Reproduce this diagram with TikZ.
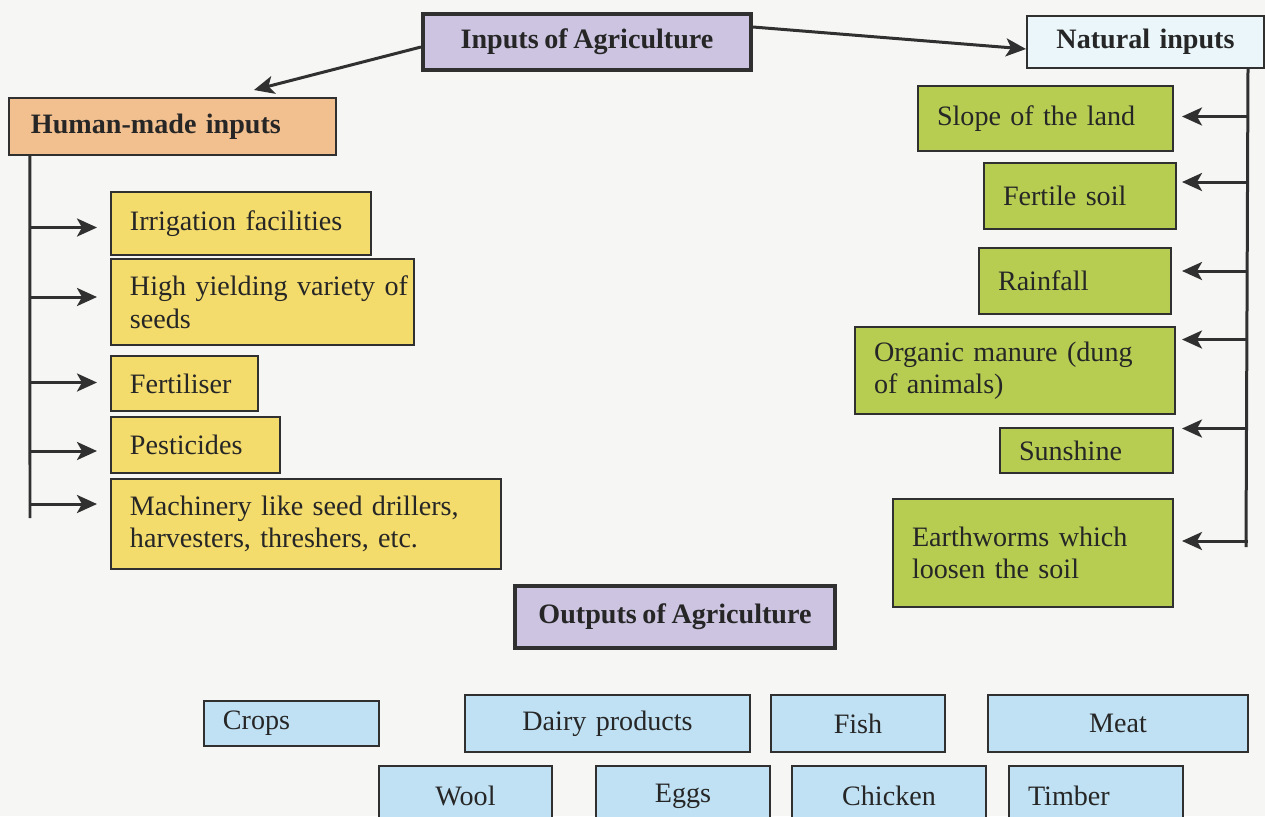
\documentclass[tikz,border=0pt]{standalone}
\usepackage{fontspec}
\setmainfont[WordSpace=0.8]{Liberation Serif}
\usetikzlibrary{positioning, arrows.meta, calc}

\definecolor{headpurple}{HTML}{CCC4E0}
\definecolor{natfill}{HTML}{EAF6FA}
\definecolor{humanfill}{HTML}{F2BF8E}
\definecolor{inyellow}{HTML}{F3DB6C}
\definecolor{ingreen}{HTML}{B6CD52}
\definecolor{outblue}{HTML}{C0E1F3}
\definecolor{inkline}{HTML}{303030}
\definecolor{paper}{HTML}{F6F6F4}

\newcommand{\boxfont}{\fontsize{16}{18.5}\selectfont}

\tikzset{
  box/.style n args={2}{draw=inkline, line width=0.04cm, anchor=north west,
    inner xsep=0.38cm, inner ysep=0pt, align=left,
    text width=#1*0.02cm-0.76cm, minimum height=#2*0.02cm},
  title/.style n args={2}{draw=inkline, line width=0.08cm, fill=headpurple,
    anchor=north west, inner sep=0pt, font=\boxfont\bfseries,
    minimum width=#1*0.02cm, minimum height=#2*0.02cm},
  ybox/.style n args={2}{box={#1}{#2}, fill=inyellow},
  gbox/.style n args={2}{box={#1}{#2}, fill=ingreen},
  obox/.style n args={2}{box={#1}{#2}, fill=outblue, align=center},
}

\begin{document}
\begin{tikzpicture}[x=0.02cm, y=-0.02cm,
  >={Stealth[length=0.4cm, width=0.36cm, inset=0.1cm]},
  every node/.style={font=\boxfont, text=black!85},
  link/.style={->, draw=inkline, line width=0.06cm},
  trunk/.style={draw=inkline, line width=0.06cm},
  branch/.style={->, draw=inkline, line width=0.06cm}]

\fill[paper] (0,0) rectangle (1265,816);
\clip (0,0) rectangle (1265,816);

% --- Headings ---
\node[title={328}{56}] (inputs) at (421,12) {Inputs of Agriculture};
\node[box={237}{52}, fill=natfill, align=center, font=\boxfont\bfseries] (natural) at (1026,15) {Natural inputs};
\node[box={327}{57}, fill=humanfill, inner xsep=0.44cm, text width=5.66cm, font=\boxfont\bfseries] (human) at (8,97) {Human-made inputs};

% --- Human-made inputs ---
\node[ybox={260}{63}] (irr) at (110,191) {Irrigation facilities};
\node[ybox={303}{86}] (hyv) at (110,258) {\mbox{High yielding variety of}\\seeds};
\node[ybox={147}{55}] (fert) at (110,355) {Fertiliser};
\node[ybox={169}{56}] (pest) at (110,416) {Pesticides};
\node[ybox={390}{90}] (mach) at (110,478) {Machinery like seed drillers,\\harvesters, threshers, etc.};

% --- Natural inputs ---
\node[gbox={255}{65}] (slope) at (917,85) {Slope of the land};
\node[gbox={192}{66}] (soil) at (983,162) {Fertile soil};
\node[gbox={192}{66}] (rain) at (978,247) {Rainfall};
\node[gbox={320}{87}] (manure) at (854,326) {Organic manure (dung\\of animals)};
\node[gbox={173}{45}] (sun) at (999,427) {Sunshine};
\node[gbox={280}{108}] (worms) at (892,498) {Earthworms which\\loosen the soil};

% --- Outputs ---
\node[title={320}{62}] (outputs) at (513,584) {Outputs of Agriculture};

\node[obox={175}{45}, align=left] (crops) at (203,700) {Crops};
\node[obox={285}{57}] (dairy) at (464,694) {Dairy products};
\node[obox={174}{57}] (fish) at (770,694) {Fish};
\node[obox={260}{57}] (meat) at (987,694) {Meat};
\node[obox={173}{60}] (wool) at (378,765) {Wool};
\node[obox={174}{60}] (eggs) at (595,765) {Eggs};
\node[obox={194}{60}] (chicken) at (791,765) {Chicken};
\node[obox={174}{60}, align=left] (timber) at (1008,765) {Timber};

% --- Top arrows ---
\draw[link] ([yshift=-0.1cm]inputs.west) -- ([xshift=-1.66cm, yshift=0.14cm]human.north east);
\draw[link] ([yshift=0.3cm]inputs.east) -- ([yshift=-0.14cm]natural.west);

% --- Left tree ---
\coordinate (hmtop) at ([xshift=0.44cm]human.south west);
\coordinate (hmend) at (30,518);
\coordinate (irrin) at ([xshift=-0.26cm, yshift=-0.08cm]irr.west);
\coordinate (hyvin) at ([xshift=-0.26cm, yshift=0.1cm]hyv.west);
\coordinate (fertin) at ([xshift=-0.26cm, yshift=0.02cm]fert.west);
\coordinate (pestin) at ([xshift=-0.26cm, yshift=-0.12cm]pest.west);
\coordinate (machin) at ([xshift=-0.26cm, yshift=0.4cm]mach.west);
\draw[trunk] (hmtop) -- (hmend);
\draw[branch] (hmtop |- irrin) -- (irrin);
\draw[branch] (hmtop |- hyvin) -- (hyvin);
\draw[branch] (hmtop |- fertin) -- (fertin);
\draw[branch] (hmtop |- pestin) -- (pestin);
\draw[branch] (hmtop |- machin) -- (machin);

% --- Right tree ---
\coordinate (nattop) at ([xshift=-0.34cm]natural.south east);
\coordinate (natend) at (1246,547);
\coordinate (slopein) at ([xshift=0.16cm, yshift=0.04cm]slope.east);
\coordinate (soilin) at ([xshift=0.1cm, yshift=0.28cm]soil.east);
\coordinate (rainin) at ([xshift=0.2cm, yshift=0.2cm]rain.east);
\coordinate (manurein) at ([xshift=0.12cm, yshift=0.62cm]manure.east);
\coordinate (sunin) at ([xshift=0.16cm, yshift=0.44cm]sun.east);
\coordinate (wormsin) at ([xshift=0.16cm, yshift=0.24cm]worms.east);
\draw[trunk] (nattop) -- (natend);
\draw[branch] (nattop |- slopein) -- (slopein);
\draw[branch] (nattop |- soilin) -- (soilin);
\draw[branch] (nattop |- rainin) -- (rainin);
\draw[branch] (nattop |- manurein) -- (manurein);
\draw[branch] (nattop |- sunin) -- (sunin);
\draw[branch] (nattop |- wormsin) -- (wormsin);

\end{tikzpicture}
\end{document}
